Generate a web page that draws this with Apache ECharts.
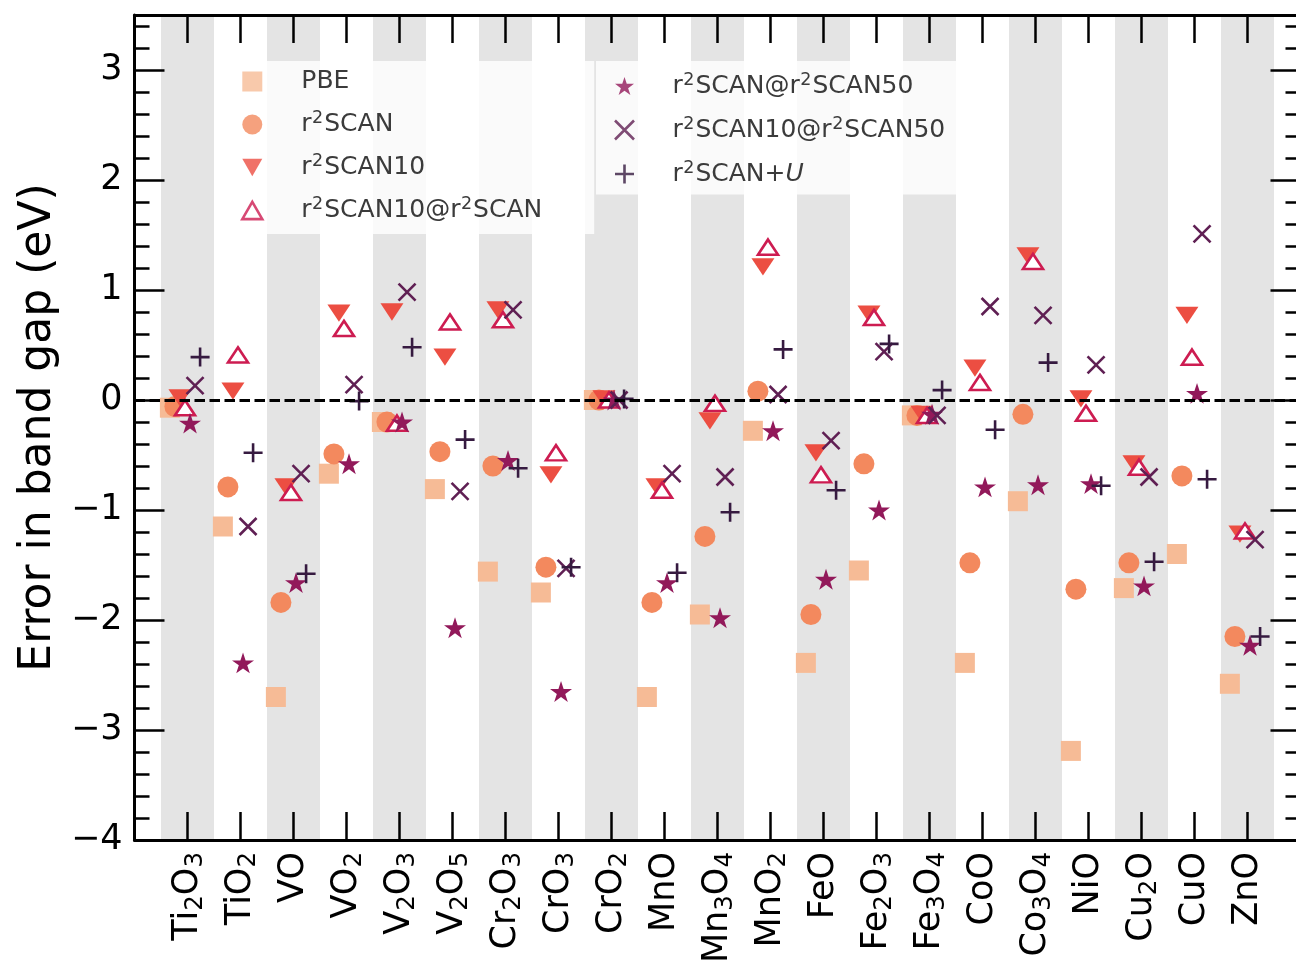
<!DOCTYPE html>
<html>
<head>
<meta charset="utf-8">
<script src="https://cdn.jsdelivr.net/npm/echarts@6/dist/echarts.min.js"></script>
<style>
  html, body { margin: 0; padding: 0; background: #ffffff; }
  #chart { width: 1296px; height: 975px; }
</style>
</head>
<body>
<div id="chart"></div>
<script>
// Transition-metal oxides along the x axis
const compounds = ['Ti2O3', 'TiO2', 'VO', 'VO2', 'V2O3', 'V2O5', 'Cr2O3', 'CrO3', 'CrO2', 'MnO',
  'Mn3O4', 'MnO2', 'FeO', 'Fe2O3', 'Fe3O4', 'CoO', 'Co3O4', 'NiO', 'Cu2O', 'CuO', 'ZnO'];

// Band-gap errors (eV), one value per compound
const errPBE = [-0.07, -1.15, -2.70, -0.67, -0.20, -0.81, -1.56, -1.75, 0.00, -2.70,
  -1.95, -0.28, -2.39, -1.55, -0.14, -2.39, -0.92, -3.19, -1.71, -1.40, -2.58];
const errR2SCAN = [-0.06, -0.79, -1.84, -0.49, -0.20, -0.47, -0.60, -1.52, 0.00, -1.84,
  -1.24, 0.08, -1.95, -0.58, -0.14, -1.48, -0.13, -1.72, -1.48, -0.69, -2.15];
const errR2SCAN10 = [0.02, 0.08, -0.79, 0.79, 0.80, 0.39, 0.82, -0.68, 0.01, -0.79,
  -0.19, 1.21, -0.48, 0.78, -0.13, 0.29, 1.31, 0.01, -0.58, 0.77, -1.22];
const errR2SCAN10atR2SCAN = [-0.07, 0.41, -0.84, 0.65, -0.21, 0.71, 0.73, -0.48, 0.00, -0.82,
  -0.03, 1.39, -0.68, 0.75, -0.14, 0.16, 1.26, -0.12, -0.61, 0.39, -1.19];
const errR2SCANatR2SCAN50 = [-0.21, -2.39, -1.66, -0.58, -0.20, -2.07, -0.55, -2.65, 0.00, -1.66,
  -1.98, -0.28, -1.63, -1.00, -0.13, -0.79, -0.77, -0.76, -1.69, 0.06, -2.23];
const errR2SCAN10atR2SCAN50 = [0.13, -1.15, -0.67, 0.14, 0.98, -0.83, 0.82, -1.53, 0.00, -0.67,
  -0.70, 0.05, -0.37, 0.44, -0.14, 0.85, 0.77, 0.32, -0.70, 1.51, -1.27];
const errR2SCANplusU = [0.39, -0.48, -1.58, -0.01, 0.48, -0.36, -0.62, -1.52, 0.01, -1.57,
  -1.02, 0.46, -0.82, 0.51, 0.09, -0.27, 0.34, -0.78, -1.47, -0.72, -2.15];

// Axis range and ticks
const yMin = -4, yMax = 3.5, yMajor = 1, yMinor = 0.2;
const xMin = -1, xMax = compounds.length;

const FONT = 'DejaVu Sans';
const STAR = 'path://M100,0L122.45,69.1L195.11,69.1L136.33,111.8L158.78,180.9L100,138.2L41.22,180.9L63.67,111.8L4.89,69.1L77.55,69.1Z';
const TRI_DOWN = 'path://M0,0L2,0L1,1.732Z';
const TRI_UP = 'path://M1,0L2,1.732L0,1.732Z';
const CROSS = 'path://M0,0L1,1M1,0L0,1';
const PLUS = 'path://M1,0L1,2M0,1L2,1';

const methods = [
  { name: 'PBE', values: errPBE, symbol: 'rect', size: 20,
    style: { color: '#f6bb96' } },
  { name: 'r²SCAN', values: errR2SCAN, symbol: 'circle', size: 21,
    style: { color: '#f3895e' } },
  { name: 'r²SCAN10', values: errR2SCAN10, symbol: TRI_DOWN, size: [23, 20],
    style: { color: '#ec4e42' } },
  { name: 'r²SCAN10@r²SCAN', values: errR2SCAN10atR2SCAN, symbol: TRI_UP, size: [20, 17.5],
    style: { color: '#ffffff', borderColor: '#cd1c51', borderWidth: 2.6 } },
  { name: 'r²SCAN@r²SCAN50', values: errR2SCANatR2SCAN50, symbol: STAR, size: 22,
    style: { color: '#92195a' } },
  { name: 'r²SCAN10@r²SCAN50', values: errR2SCAN10atR2SCAN50, symbol: CROSS, size: 17,
    style: { color: 'none', borderColor: '#5f1f53', borderWidth: 2.6 } },
  { name: 'r²SCAN+U', values: errR2SCANplusU, symbol: PLUS, size: 19,
    style: { color: 'none', borderColor: '#361a40', borderWidth: 2.6 } }
];

// horizontal spread of the methods inside each compound's column
const slot = 0.095;

// chemical formula -> rich text with subscripted digits
function formulaRich(f) {
  return f.replace(/(\d+)|([^\d]+)/g, (m, d, t) => d ? '{s|' + d + '}' : '{m|' + t + '}');
}
// method name -> rich text with superscript 2 and italic U
function methodRich(name) {
  let parts = name.split('²').map(p => {
    if (!p) return '';
    if (p.endsWith('+U')) return '{t|' + p.slice(0, -1) + '}{it|U}';
    return '{t|' + p + '}';
  });
  return parts.join('{sup|2}');
}

const legendRich = {
  t: { fontSize: 25, fontFamily: FONT, color: '#3b3b3b', lineHeight: 30 },
  it: { fontSize: 25, fontFamily: FONT, color: '#3b3b3b', lineHeight: 30, fontStyle: 'italic' },
  sup: { fontSize: 17.5, fontFamily: FONT, color: '#3b3b3b', lineHeight: 18, verticalAlign: 'top', padding: [0, 1, 0, 0.5] }
};

const bandAreas = compounds.map((c, i) => i).filter(i => i % 2 === 0)
  .map(i => [{ xAxis: i - 0.5 }, { xAxis: i + 0.5 }]);

const scatterSeries = methods.map((m, k) => ({
  type: 'scatter',
  name: m.name,
  data: m.values.map((v, i) => [i + (k - 3.5) * slot, v]),
  symbol: m.symbol,
  symbolSize: m.size,
  symbolKeepAspect: true,
  itemStyle: Object.assign({ opacity: 1 }, m.style),
  silent: true,
  emphasis: { disabled: true }
}));

function legendItem(m) {
  return { name: m.name, icon: m.symbol, itemStyle: Object.assign({ opacity: 0.8 }, m.style) };
}

const axisLineStyle = { color: '#000', width: 3 };
const majorTick = (len) => ({ show: true, inside: true, length: len, lineStyle: { color: '#000', width: 2.5 } });

const xBase = {
  type: 'value', min: xMin, max: xMax, interval: 1,
  axisLine: { show: true, onZero: false, lineStyle: axisLineStyle },
  axisTick: majorTick(28),
  splitLine: { show: false }
};
const yBase = {
  type: 'value', min: yMin, max: yMax, interval: yMajor,
  axisLine: { show: true, onZero: false, lineStyle: axisLineStyle },
  axisTick: majorTick(30),
  splitLine: { show: false },
  axisLabel: { show: false }
};
const yMinorBase = {
  type: 'value', min: yMin, max: yMax, interval: yMinor,
  axisLine: { show: false, onZero: false },
  axisTick: { show: true, inside: true, length: 15, lineStyle: { color: '#000', width: 2.5 } },
  splitLine: { show: false },
  axisLabel: { show: false }
};

const option = {
  animation: false,
  backgroundColor: '#ffffff',
  grid: { left: 134.5, top: 15, width: 1166, height: 825, outerBoundsMode: 'none', containLabel: false },
  xAxis: [
    Object.assign({}, xBase, {
      position: 'bottom',
      axisLabel: {
        show: true, rotate: 90, margin: 12,
        formatter: v => (Number.isInteger(v) && v >= 0 && v < compounds.length) ? formulaRich(compounds[v]) : '',
        rich: {
          m: { fontSize: 35, fontFamily: FONT, color: '#000', lineHeight: 42 },
          s: { fontSize: 24.5, fontFamily: FONT, color: '#000', lineHeight: 24.5, verticalAlign: 'bottom' }
        }
      }
    }),
    Object.assign({}, xBase, { position: 'top', axisLabel: { show: false } })
  ],
  yAxis: [
    Object.assign({}, yBase, {
      position: 'left',
      name: 'Error in band gap (eV)',
      nameLocation: 'middle',
      nameGap: 74,
      nameRotate: 90,
      nameMoveOverlap: false,
      nameTextStyle: { fontSize: 44, fontFamily: FONT, color: '#000' },
      axisLabel: {
        show: true, margin: 12, fontSize: 35, fontFamily: FONT, color: '#000',
        formatter: v => Number.isInteger(v) ? (v < 0 ? '\u2212' + (-v) : String(v)) : ''
      }
    }),
    Object.assign({}, yBase, { position: 'right' }),
    Object.assign({}, yMinorBase, { position: 'left' }),
    Object.assign({}, yMinorBase, { position: 'right' })
  ],
  legend: [
    {
      data: methods.slice(0, 4).map(legendItem),
      orient: 'vertical', left: 231, top: 61,
      padding: [8, 52, 11, 10], itemGap: 15.5,
      itemWidth: 20, itemHeight: 20,
      backgroundColor: 'rgba(255,255,255,0.8)',
      selectedMode: false,
      formatter: methodRich,
      textStyle: { padding: [0, 0, 0, 34], rich: legendRich }
    },
    {
      data: methods.slice(4).map(legendItem),
      orient: 'vertical', left: 596, top: 61,
      padding: [10, 12, 8, 16.5], itemGap: 16.5,
      itemWidth: 19, itemHeight: 19,
      backgroundColor: 'rgba(255,255,255,0.8)',
      selectedMode: false,
      formatter: methodRich,
      textStyle: { padding: [0, 0, 0, 33.5], rich: legendRich }
    }
  ],
  series: [
    {
      type: 'scatter', name: 'bands', data: [], silent: true,
      markArea: { silent: true, z: -1, itemStyle: { color: '#e4e4e4' }, label: { show: false }, data: bandAreas }
    }
  ].concat(scatterSeries).concat([
    {
      type: 'scatter', name: 'zero', data: [], silent: true,
      markLine: {
        silent: true, z: 10, symbol: 'none', label: { show: false },
        lineStyle: { color: '#000', width: 2.8, type: [10.5, 4.5] },
        emphasis: { disabled: true },
        data: [{ yAxis: 0 }]
      }
    }
  ])
};

const chart = echarts.init(document.getElementById('chart'), null, { renderer: 'canvas' });
chart.setOption(option);
</script>
</body>
</html>
